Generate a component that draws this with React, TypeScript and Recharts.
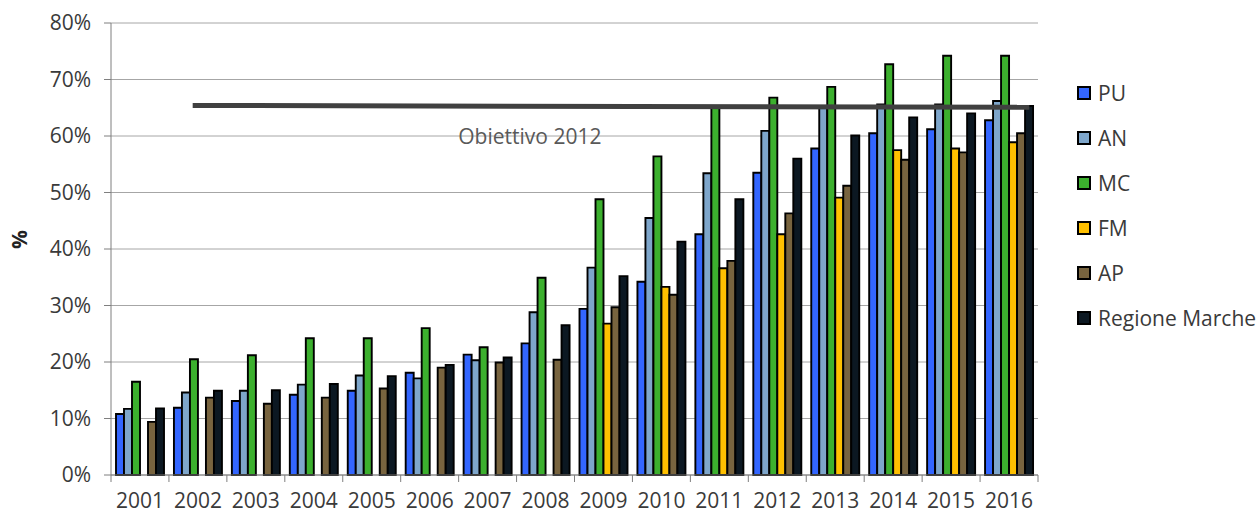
import React from "react";
import {
  BarChart,
  Bar,
  XAxis,
  YAxis,
  CartesianGrid,
  ReferenceLine,
  Label,
} from "recharts";

const YEARS = [
  "2001", "2002", "2003", "2004", "2005", "2006", "2007", "2008",
  "2009", "2010", "2011", "2012", "2013", "2014", "2015", "2016",
];

const PU = [10.8, 11.9, 13.1, 14.2, 14.9, 18.1, 21.3, 23.3, 29.4, 34.2, 42.6, 53.5, 57.8, 60.5, 61.2, 62.8];
const AN = [11.7, 14.6, 14.9, 16.0, 17.6, 17.1, 20.3, 28.8, 36.7, 45.5, 53.4, 60.9, 65.2, 65.6, 65.6, 66.2];
const MC = [16.5, 20.5, 21.2, 24.2, 24.2, 26.0, 22.6, 34.9, 48.8, 56.4, 65.3, 66.8, 68.7, 72.7, 74.2, 74.2];
const FM = [null, null, null, null, null, null, null, null, 26.8, 33.3, 36.6, 42.6, 49.1, 57.5, 57.8, 58.9];
const AP = [9.4, 13.7, 12.6, 13.7, 15.3, 19.0, 19.9, 20.4, 29.7, 31.9, 37.9, 46.3, 51.2, 55.8, 57.1, 60.5];
const RM = [11.8, 14.9, 15.0, 16.1, 17.5, 19.5, 20.8, 26.5, 35.2, 41.3, 48.8, 56.0, 60.1, 63.3, 64.0, 65.3];

const Y_TICKS = [0, 10, 20, 30, 40, 50, 60, 70, 80];

// target line: position on the year scale (0 = start of 2001) and value
const GOAL_LABEL = "Obiettivo 2012";
const GOAL_FROM = { pos: 1.41, value: 65.4 };
const GOAL_TO = { pos: 15.85, value: 65.1 };

const SERIES = [
  { key: "PU", name: "PU", values: PU, color: "#3366ff" },
  { key: "AN", name: "AN", values: AN, color: "#7ea6cb" },
  { key: "MC", name: "MC", values: MC, color: "#3cb02e" },
  { key: "FM", name: "FM", values: FM, color: "#ffc000" },
  { key: "AP", name: "AP", values: AP, color: "#78643f" },
  { key: "RM", name: "Regione Marche", values: RM, color: "#0c1822" },
];

const data = YEARS.map((year, i) => {
  const row: Record<string, string | number | null> = { year, pos: i + 0.5 };
  SERIES.forEach((s) => {
    row[s.key] = s.values[i];
  });
  return row;
});

const FONT = "'Open Sans', sans-serif";
const TEXT = "#3a3a3a";
const AXIS = "#7f7f7f";
// tick marks sit on the year boundaries 0..16
const EDGE_TICKS = YEARS.map((_, i) => i).concat(YEARS.length);

// year name centred between two boundary ticks
const YearTick = (props: any) => {
  const { x, y, payload, width } = props;
  const i = payload.value;
  if (i >= YEARS.length) return <g />;
  const band = width / YEARS.length;
  return (
    <text
      x={x + band / 2}
      y={y}
      dy="0.71em"
      textAnchor="middle"
      fontSize={21}
      fill={TEXT}
      fontFamily={FONT}
    >
      {YEARS[i]}
    </text>
  );
};

const GoalLabel = (props: any) => {
  const vb = props.viewBox || {};
  const x1 = vb.x1 ?? vb.x;
  const x2 = vb.x2 ?? vb.x + (vb.width || 0);
  const y1 = vb.y1 ?? vb.y;
  return (
    <text
      x={x1 + (x2 - x1) * 0.403}
      y={y1 + 39}
      textAnchor="middle"
      fill="#595959"
      fontSize={21}
      fontFamily={FONT}
    >
      {GOAL_LABEL}
    </text>
  );
};

export default function App() {
  return (
    <div style={{ position: "absolute", left: 0, top: 0, width: 1257, height: 514, background: "#fff" }}>
      <BarChart
        width={1257}
        height={514}
        data={data}
        margin={{ top: 23, right: 219, bottom: 0, left: 0 }}
        barCategoryGap={5}
        barGap={0}
      >
        <CartesianGrid vertical={false} stroke="#a6a6a6" />
        <XAxis dataKey="year" hide height={0} />
        <XAxis
          xAxisId="edge"
          dataKey="pos"
          type="number"
          domain={[0, YEARS.length]}
          allowDataOverflow
          ticks={EDGE_TICKS}
          interval={0}
          height={39}
          axisLine={{ stroke: AXIS }}
          tickLine={{ stroke: AXIS }}
          tickSize={7}
          tickMargin={11}
          tick={<YearTick />}
        />
        <YAxis
          width={111}
          domain={[0, 80]}
          ticks={Y_TICKS}
          tickFormatter={(v: number) => `${v}%`}
          tick={{ fontSize: 21, fill: TEXT, fontFamily: FONT }}
          axisLine={{ stroke: AXIS }}
          tickLine={{ stroke: AXIS }}
          tickSize={7}
          tickMargin={13}
        >
          <Label
            value="%"
            angle={-90}
            position="insideLeft"
            offset={20}
            style={{ fontSize: 21, fontWeight: 700, fill: "#222", fontFamily: FONT }}
          />
        </YAxis>
        {SERIES.map((s) => (
          <Bar
            key={s.key}
            dataKey={s.key}
            name={s.name}
            fill={s.color}
            stroke="#000"
            strokeWidth={1.9}
            isAnimationActive={false}
          />
        ))}
        <ReferenceLine
          xAxisId="edge"
          segment={[
            { x: GOAL_FROM.pos, y: GOAL_FROM.value },
            { x: GOAL_TO.pos, y: GOAL_TO.value },
          ]}
          stroke="#404040"
          strokeWidth={5}
          ifOverflow="visible"
          label={<GoalLabel />}
        />
      </BarChart>
      <div style={{ position: "absolute", left: 1077, top: 70, fontFamily: FONT }}>
        {SERIES.map((s) => (
          <div key={s.key} style={{ display: "flex", alignItems: "center", height: 45 }}>
            <span
              style={{
                width: 10,
                height: 10,
                background: s.color,
                border: "2px solid #000",
                marginRight: 7,
              }}
            />
            <span style={{ fontSize: 21, color: TEXT }}>{s.name}</span>
          </div>
        ))}
      </div>
    </div>
  );
}
